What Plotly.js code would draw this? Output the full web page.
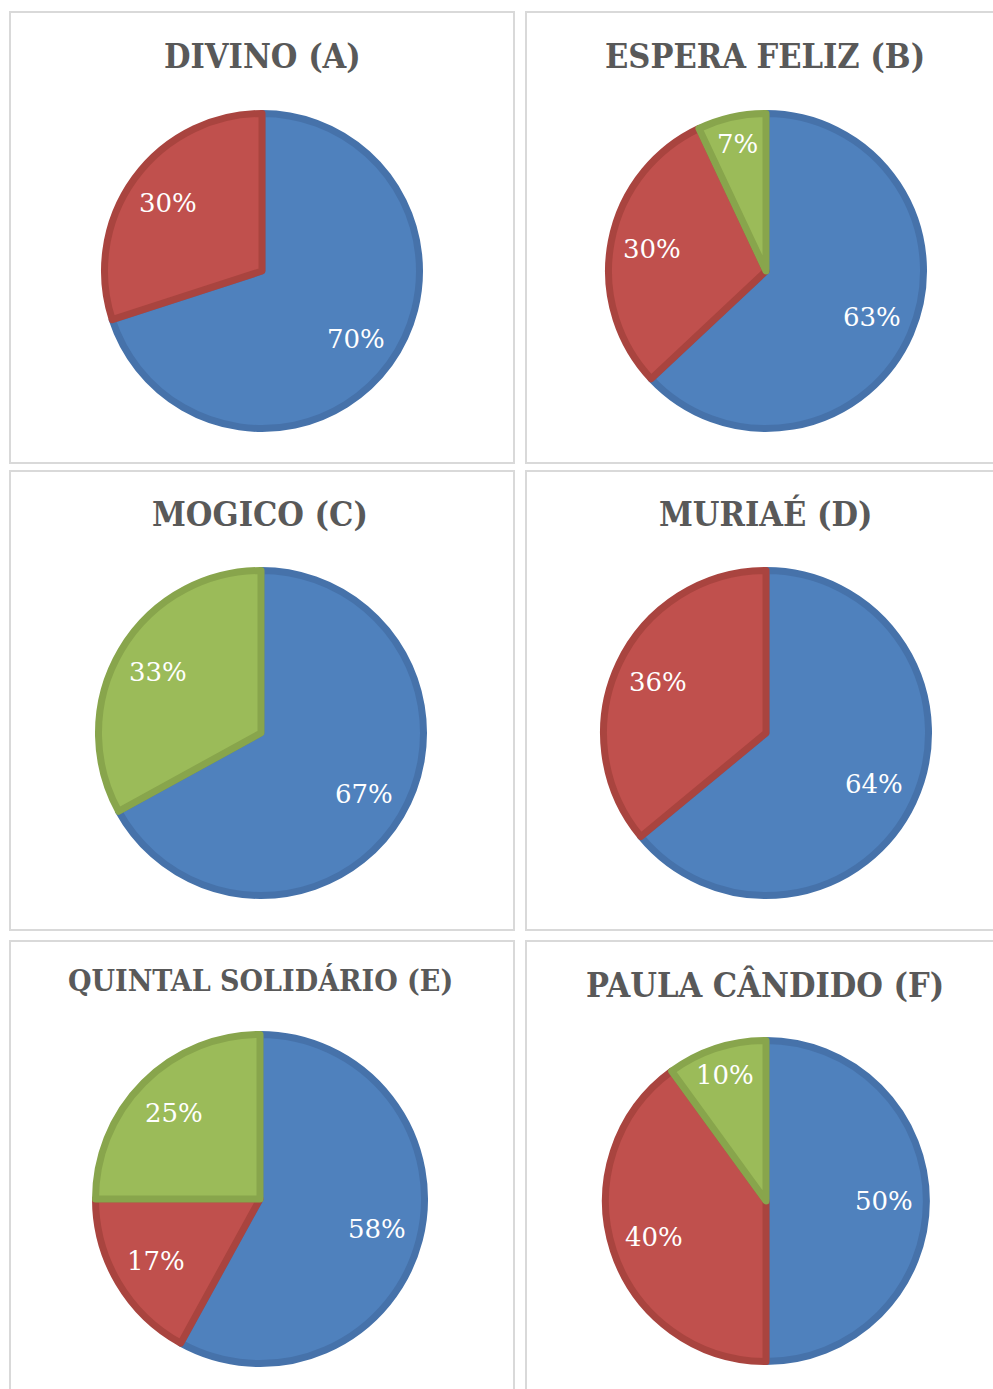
<!DOCTYPE html>
<html>
<head>
<meta charset="utf-8">
<script src="https://cdn.plot.ly/plotly-3.0.1.min.js"></script>
<style>
html,body{margin:0;padding:0;background:#fff;}
#chart{width:993px;height:1389px;}
</style>
</head>
<body>
<div id="chart"></div>
<script>
// ---- data ----
const titles = ["DIVINO (A)", "ESPERA FELIZ (B)", "MOGICO (C)", "MURIAÉ (D)", "QUINTAL SOLIDÁRIO (E)", "PAULA CÂNDIDO (F)"];
const categories = ["Azul", "Vermelho", "Verde"];
const valuesA = [70, 30, 0];
const valuesB = [63, 30, 7];
const valuesC = [67, 0, 33];
const valuesD = [64, 36, 0];
const valuesE = [58, 17, 25];
const valuesF = [50, 40, 10];
const allValues = [valuesA, valuesB, valuesC, valuesD, valuesE, valuesF];

// ---- style / layout ----
const W = 993, H = 1389;
const fills = ["#4F81BD", "#C0504D", "#9BBB59"];
const edges = ["#4672AA", "#A9443F", "#88A54C"];
const lw = 7;
// pie geometry (pixels): centre x, centre y, outer radius
const geo = [
  [262, 271, 161], [766, 271, 161],
  [261, 733, 166], [766, 733, 166],
  [260, 1199, 168], [766, 1201, 164]
];
const titlePos = [
  [262, 56, 34], [765, 56, 34],
  [260, 514, 34], [765, 514, 34],
  [260, 980, 30], [765, 985, 34]
];
const panels = [
  [10, 12, 514, 463], [526, 12, 1010, 463],
  [10, 471, 514, 930], [526, 471, 1010, 930],
  [10, 941, 514, 1400], [526, 941, 1010, 1400]
];

const traces = [];
const annotations = [];
const shapes = [];

panels.forEach(p => {
  shapes.push({type: "rect", xref: "paper", yref: "paper",
    x0: p[0] / W, x1: p[2] / W, y0: 1 - p[3] / H, y1: 1 - p[1] / H,
    line: {color: "#D9D9D9", width: 2}, fillcolor: "rgba(0,0,0,0)", layer: "below"});
});

allValues.forEach((vals, i) => {
  const [cx, cy, r] = geo[i];
  const rr = r - lw / 2;
  // keep only non-empty slices
  const idx = vals.map((v, k) => k).filter(k => vals[k] > 0);
  const v2 = idx.map(k => vals[k]);
  traces.push({
    type: "pie",
    labels: idx.map(k => categories[k]),
    values: v2,
    sort: false,
    direction: "clockwise",
    rotation: 0,
    textinfo: "none",
    hoverinfo: "label+percent",
    showlegend: false,
    marker: {colors: idx.map(k => fills[k]), line: {color: idx.map(k => edges[k]), width: lw}},
    domain: {x: [(cx - rr) / W, (cx + rr) / W], y: [1 - (cy + rr) / H, 1 - (cy - rr) / H]}
  });
  // data labels placed at each slice's middle angle
  const total = v2.reduce((a, b) => a + b, 0);
  let cum = 0;
  v2.forEach(v => {
    const mid = (cum + v / 2) / total * 2 * Math.PI;
    cum += v;
    const f = (v / total < 0.12) ? 0.81 : 0.72;
    const px = cx + Math.sin(mid) * r * f;
    const py = cy - Math.cos(mid) * r * f;
    annotations.push({
      xref: "paper", yref: "paper", x: px / W, y: 1 - py / H,
      xanchor: "center", yanchor: "middle", showarrow: false,
      text: Math.round(v / total * 100) + "%",
      font: {family: "DejaVu Serif", size: 26, color: "#FFFFFF"}
    });
  });
  const [tx, ty, ts] = titlePos[i];
  annotations.push({
    xref: "paper", yref: "paper", x: tx / W, y: 1 - ty / H,
    xanchor: "center", yanchor: "middle", showarrow: false,
    text: "<b>" + titles[i] + "</b>",
    font: {family: "DejaVu Serif Condensed, DejaVu Serif", size: ts, color: "#595959"}
  });
});

Plotly.newPlot("chart", traces, {
  width: W, height: H,
  margin: {l: 0, r: 0, t: 0, b: 0},
  paper_bgcolor: "#FFFFFF",
  shapes: shapes,
  annotations: annotations
}, {staticPlot: true});
</script>
</body>
</html>
